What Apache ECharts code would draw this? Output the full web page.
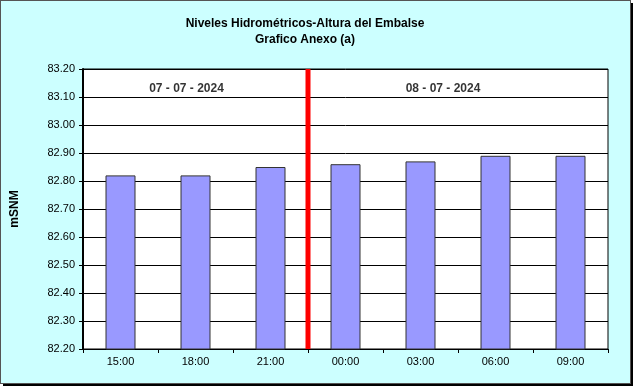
<!DOCTYPE html>
<html><head><meta charset="utf-8">
<script src="https://cdn.jsdelivr.net/npm/echarts@6/dist/echarts.min.js"></script>
<style>
html,body{margin:0;padding:0;background:#fff;}
#c{position:absolute;left:0;top:0;width:629px;height:382px;background:#CCFFFF;border:1px solid #555;box-shadow:3px 3px 0 #000;}
</style></head>
<body><div id="c"></div>
<script>
const categories = ['15:00','18:00','21:00','00:00','03:00','06:00','09:00'];
const levels = [82.82, 82.82, 82.85, 82.86, 82.87, 82.89, 82.89];
const yTicks = [82.2, 83.2, 0.1];
const dayLabels = [['07 - 07 - 2024', 1.38, 83.13], ['08 - 07 - 2024', 4.8, 83.13]];
const dayBreak = 3;

const chart = echarts.init(document.getElementById('c'));
chart.setOption({
  animation:false,
  backgroundColor:'#CCFFFF',
  textStyle:{fontFamily:'Arial, Liberation Sans'},
  title:{text:'Niveles Hidrométricos-Altura del Embalse\nGrafico Anexo (a)', left:299, top:10, textAlign:'center',
    textStyle:{fontSize:12, fontWeight:'bold', color:'#000', lineHeight:16, fontFamily:'Arial, Liberation Sans'}},
  grid:{left:80, right:22, top:68, bottom:34, show:true, backgroundColor:'#FFFFFF', borderColor:'#000', borderWidth:1},
  xAxis:[{type:'category', data:categories, boundaryGap:true,
    axisLine:{lineStyle:{color:'#000', width:1}},
    axisTick:{show:true, alignWithLabel:false, length:4, lineStyle:{color:'#000'}},
    axisLabel:{color:'#000', fontSize:11, margin:7}},
    {type:'value', min:0, max:categories.length, show:false}],
  yAxis:{type:'value', min:yTicks[0], max:yTicks[1], interval:yTicks[2],
    name:'mSNM', nameLocation:'middle', nameGap:62, nameRotate:90,
    nameTextStyle:{fontWeight:'bold', fontSize:12, color:'#000'},
    axisLine:{show:true, lineStyle:{color:'#000', width:2}},
    axisTick:{show:true, length:4, lineStyle:{color:'#000'}},
    axisLabel:{color:'#000', fontSize:11, margin:8, formatter:v=>v.toFixed(2)},
    splitLine:{lineStyle:{color:'#000', width:1}}},
  series:[
    {type:'bar', data:levels, barWidth:'40%',
     itemStyle:{color:'#9999FF', borderColor:'#333', borderWidth:1}},
    {type:'line', xAxisIndex:1, data:[[dayBreak, yTicks[0]],[dayBreak, yTicks[1]]], symbol:'none',
     lineStyle:{color:'#FF0000', width:5}, z:5},
    {type:'scatter', xAxisIndex:1, symbolSize:0, data:dayLabels.map(d=>[d[1], d[2], d[0]]),
     label:{show:true, position:'inside', formatter:p=>p.data[2], fontWeight:'bold', fontSize:12, color:'#000'}}
  ]
});
</script></body></html>
